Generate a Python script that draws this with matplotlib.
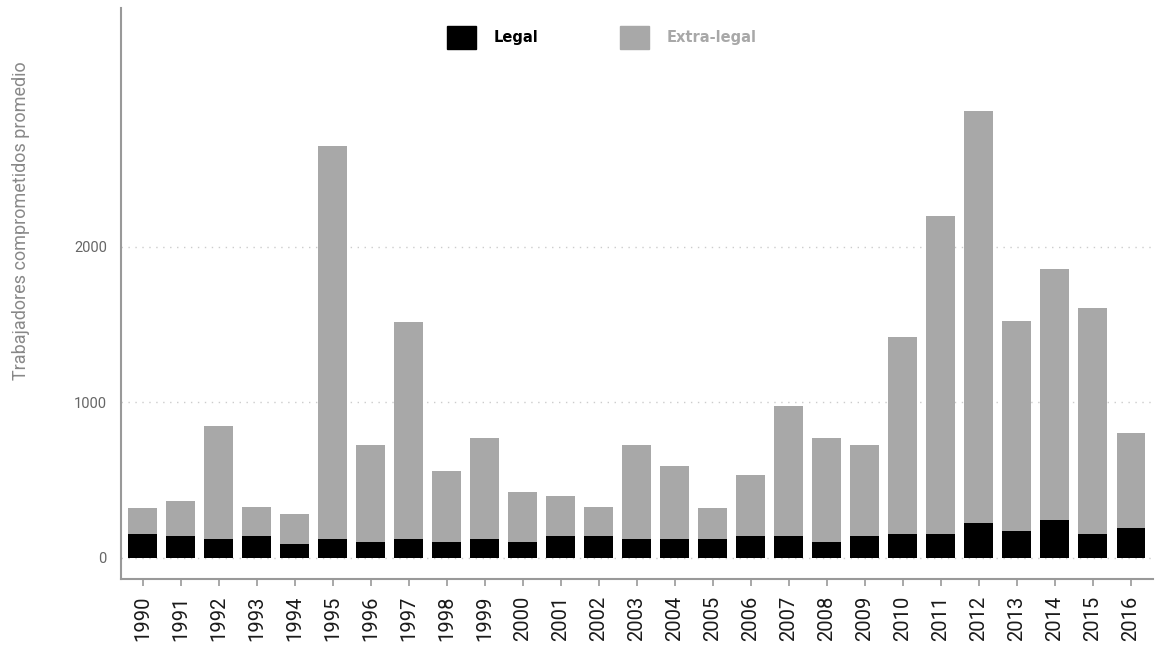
import matplotlib.pyplot as plt
from matplotlib.patches import Patch
import numpy as np

years = list(range(1990, 2017))
legal = [154, 141, 122, 141, 90, 122, 103, 122, 103, 122, 103, 141, 141, 122,
         122, 122, 141, 141, 103, 141, 154, 154, 225, 173, 244, 154, 193]
total = [321, 366, 848, 328, 283, 2646, 726, 1516, 559, 771, 424, 398, 328, 726,
         591, 321, 533, 976, 771, 726, 1419, 2197, 2871, 1522, 1856, 1606, 803]
extra = [t - l for t, l in zip(total, legal)]

BLACK = "#000000"
GRAY = "#a8a8a8"

fig = plt.figure(figsize=(11.56, 6.53), dpi=100)
ax = fig.add_axes([0.1044, 0.1133, 0.893, 0.8744])

x = np.arange(len(years))
ax.bar(x, legal, width=0.76, color=BLACK, zorder=3)
ax.bar(x, extra, width=0.76, bottom=legal, color=GRAY, zorder=3)

ax.set_xlim(-0.58, len(years) - 1 + 0.58)
ax.set_ylim(-135, 3532)

ax.set_yticks([0, 1000, 2000])
ax.set_yticklabels(["0", "1000", "2000"], fontfamily="Roboto", fontsize=10.5, color="#666666")
ax.tick_params(axis="y", length=0, pad=10)
ax.yaxis.grid(True, linestyle=(0, (1, 4)), color="#cccccc", linewidth=1, zorder=0)

ax.set_xticks(x)
ax.set_xticklabels([str(y) for y in years], rotation=90, fontfamily="Roboto",
                   fontsize=14.5, color="#1a1a1a")
ax.tick_params(axis="x", length=5, width=1.2, color="#999999", pad=7)

for s in ["top", "right"]:
    ax.spines[s].set_visible(False)
for s in ["left", "bottom"]:
    ax.spines[s].set_color("#999999")
    ax.spines[s].set_linewidth(1.5)

ax.set_ylabel("Trabajadores comprometidos promedio", fontfamily="Roboto",
              fontsize=13, color="#888888", labelpad=36)
ax.yaxis.set_label_coords(-0.088, 0.627)

handles = [Patch(color=BLACK), Patch(color=GRAY)]
leg = fig.legend(handles, ["Legal", "Extra-legal"], ncol=2, frameon=False,
                 loc="center left", bbox_to_anchor=(447 / 1156, 1 - 37.5 / 653),
                 borderaxespad=0, borderpad=0,
                 prop={"family": "DejaVu Sans", "weight": "bold", "size": 10.5},
                 handlelength=2.0, handleheight=2.0, handletextpad=1.2,
                 columnspacing=5.6)
leg.get_texts()[0].set_color(BLACK)
leg.get_texts()[1].set_color(GRAY)

fig.savefig("out.png", dpi=100)
